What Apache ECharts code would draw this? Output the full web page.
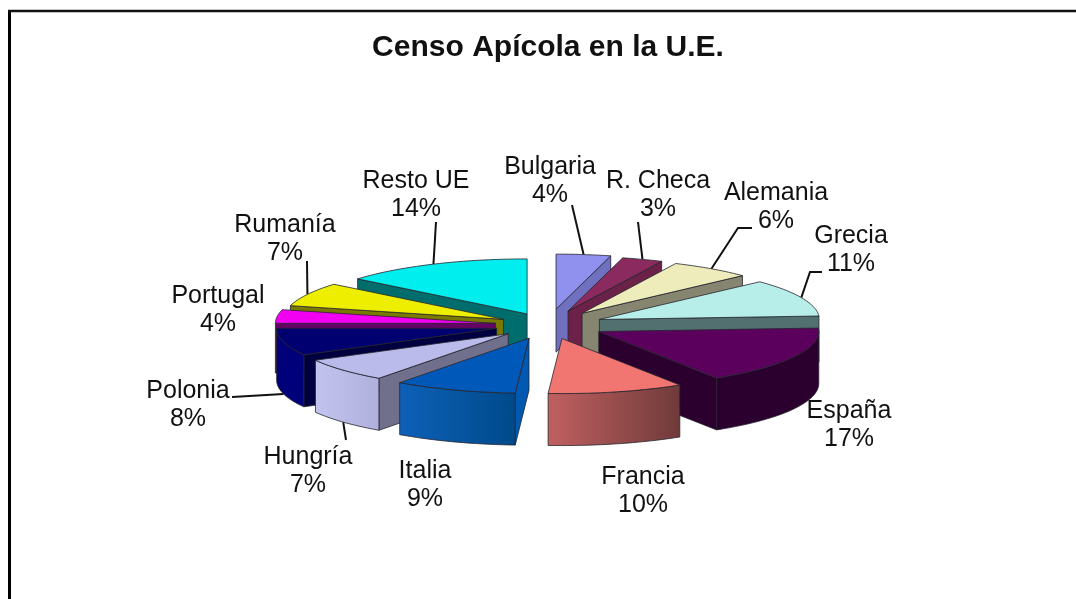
<!DOCTYPE html>
<html>
<head>
<meta charset="utf-8">
<title>Censo Apícola en la U.E.</title>
<script src="https://cdn.jsdelivr.net/npm/echarts@6/dist/echarts.min.js"></script>
<style>
  html, body { margin: 0; padding: 0; background: #fff; }
  #chart { width: 1076px; height: 599px; }
</style>
</head>
<body>
<div id="chart"></div>
<script>
const countries = ['Bulgaria', 'R. Checa', 'Alemania', 'Grecia', 'España', 'Francia', 'Italia', 'Hungría', 'Polonia', 'Portugal', 'Rumanía', 'Resto UE'];
const shares = [4, 3, 6, 11, 17, 10, 9, 7, 8, 4, 7, 14];

// how far each slice is pulled out of the pie
const explode = [64, 59, 58, 56, 57, 56, 56, 53, 53, 53, 50, 49];

// face colours per slice
const topColors = ['#9090ee', '#8a2a5e', '#eeecba', '#b8eeea', '#5c005e', '#f17672', '#0059b8', '#babbeb', '#000070', '#f200f2', '#eeee00', '#00eeee'];
const wallColors = ['#7070c0', '#6b2148', '#858570', '#527070', '#2b002e', '#a05050', '#0058b0', '#70708c', '#000040', '#660066', '#7a7a00', '#006d6d'];
const rimLeft = ['#7070c0', '#6b2148', '#858570', '#527070', '#2b002e', '#c06060', '#0d60b8', '#c2c3ee', '#00007a', '#660066', '#7a7a00', '#006d6d'];
const rimRight = ['#7070c0', '#6b2148', '#858570', '#527070', '#2b002e', '#703a3a', '#004a8a', '#b0b0dc', '#00007a', '#660066', '#7a7a00', '#006d6d'];

// hand placed labels: centre x, centre y of the first line
const labelAt = [[550, 167], [658, 181], [776, 193], [851, 236], [849, 411], [643, 477], [425, 471], [308, 457], [188, 391], [218, 296], [285, 225], [416, 181]];
// leader line, from the label to the rim; null = no line
const leaderFrom = [[[572, 205]], [[638, 222]], [[752, 228], [738, 228]], [[822, 272], [810, 272]], null, null, null, [[346, 440]], [[232, 397]], null, [[307, 261]], [[436, 222]]];

// back to front
const paintOrder = [11, 0, 1, 2, 3, 10, 9, 8, 4, 7, 5, 6];

const CX = 548, CY = 325, RX = 220, TILT = 0.25;
const total = shares.reduce((a, b) => a + b, 0);
const cum = [];
shares.reduce((c, v, i) => { cum[i] = c; return c + v; }, 0);

const toAngle = (v) => v / total * Math.PI * 2;
const depthAt = (y) => Math.min(52, 43 + Math.max(0, y - 310) * 0.5);

function sliceGeom(i) {
  const a0 = toAngle(cum[i]);
  const a1 = toAngle(cum[i] + shares[i]);
  const mid = (a0 + a1) / 2;
  const ax = CX + explode[i] * Math.sin(mid);
  const ay = CY - explode[i] * TILT * Math.cos(mid);
  const at = (a) => [ax + RX * Math.sin(a), ay - RX * TILT * Math.cos(a)];
  const down = (p) => [p[0], p[1] + depthAt(p[1])];
  return { a0, a1, mid, apex: [ax, ay], at, down };
}

function arcPoints(g, a0, a1) {
  const n = Math.max(2, Math.ceil((a1 - a0) / 0.03));
  const pts = [];
  for (let k = 0; k <= n; k++) pts.push(g.at(a0 + (a1 - a0) * k / n));
  return pts;
}

function face(points, fill) {
  return {
    type: 'polygon',
    shape: { points: points },
    style: { fill: fill, stroke: '#26262e', lineWidth: 0.8, lineJoin: 'round' }
  };
}

function renderSlice(params, api) {
  const i = api.value(1);
  const g = sliceGeom(i);
  const kids = [];
  const wall = (p) => face([g.apex, p, g.down(p), g.down(g.apex)], wallColors[i]);
  const rim0 = g.at(g.a0), rim1 = g.at(g.a1);
  // radial walls only when the slice top sits above the edge
  if (Math.sin(g.a0) < 0) kids.push(wall(rim0));
  if (Math.sin(g.a1) > 0) kids.push(wall(rim1));
  // curved wall, front half only
  const from = Math.max(g.a0, Math.PI / 2), to = Math.min(g.a1, Math.PI * 1.5);
  if (to > from) {
    const arc = arcPoints(g, from, to);
    kids.push(face(arc.concat(arc.map(g.down).reverse()), {
      type: 'linear', x: 0, y: 0, x2: 1, y2: 0,
      colorStops: [{ offset: 0, color: rimLeft[i] }, { offset: 1, color: rimRight[i] }]
    }));
  }
  kids.push(face([g.apex].concat(arcPoints(g, g.a0, g.a1)), topColors[i]));
  return { type: 'group', children: kids };
}

function renderLeader(params, api) {
  const i = api.value(1);
  if (!leaderFrom[i]) return null;
  const g = sliceGeom(i);
  let end = g.at(g.mid);
  if (Math.cos(g.mid) < 0) end = g.down(end);
  return {
    type: 'polyline',
    shape: { points: leaderFrom[i].concat([end]) },
    style: { fill: null, stroke: '#111', lineWidth: 2 }
  };
}

function renderLabel(params, api) {
  const i = api.value(1);
  const font = '25px "Liberation Sans", Arial, sans-serif';
  const line = (text, y) => ({
    type: 'text',
    style: { x: labelAt[i][0], y: y, text: text, font: font, fill: '#111', align: 'center', verticalAlign: 'middle' }
  });
  return {
    type: 'group',
    children: [line(countries[i], labelAt[i][1]), line(api.value(0) + '%', labelAt[i][1] + 28)]
  };
}

const chart = echarts.init(document.getElementById('chart'));
const rows = paintOrder.map((i) => [shares[i], i]);
const dims = { x: 1, y: 0 };
chart.setOption({
  backgroundColor: '#fff',
  animation: false,
  tooltip: { show: false },
  title: {
    text: 'Censo Apícola en la U.E.',
    left: 543, top: 43,
    textAlign: 'center', textVerticalAlign: 'middle',
    textStyle: { fontFamily: '"Liberation Sans", Arial, sans-serif', fontWeight: 'bold', fontSize: 30, color: '#111' }
  },
  graphic: [
    { type: 'line', silent: true, shape: { x1: 9.5, y1: 10, x2: 9.5, y2: 599 }, style: { stroke: '#000', lineWidth: 3 } },
    { type: 'line', silent: true, shape: { x1: 8, y1: 11, x2: 1076, y2: 11 }, style: { stroke: '#111', lineWidth: 2.5 } }
  ],
  series: [
    { type: 'custom', coordinateSystem: 'none', silent: true, z: 1, encode: dims, data: rows, renderItem: renderLeader },
    { type: 'custom', coordinateSystem: 'none', silent: true, z: 2, encode: dims, data: rows, renderItem: renderSlice },
    { type: 'custom', coordinateSystem: 'none', silent: true, z: 3, encode: dims, data: rows, renderItem: renderLabel }
  ]
});
</script>
</body>
</html>
